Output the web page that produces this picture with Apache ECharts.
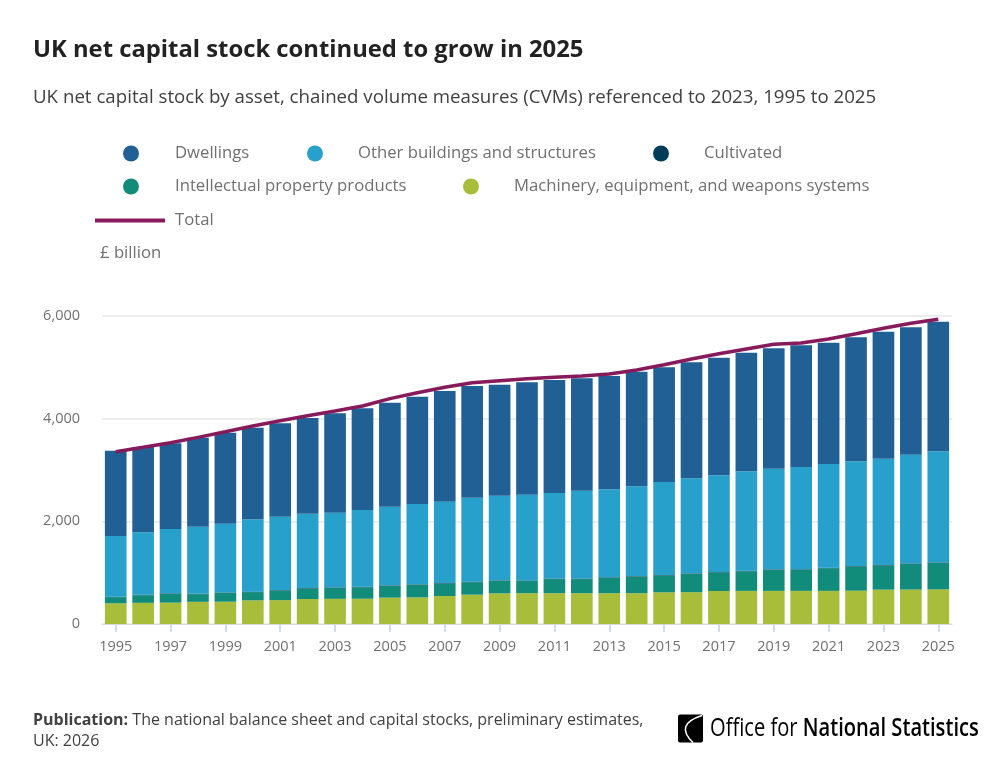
<!DOCTYPE html>
<html>
<head>
<meta charset="utf-8">
<script src="https://cdn.jsdelivr.net/npm/echarts@6/dist/echarts.min.js"></script>
<style>
    html, body { margin: 0; padding: 0; background: #fff; }
    #chart { width: 1008px; height: 778px; }
</style>
</head>
<body>
<div id="chart"></div>
<script>
// 年份
var years = ['1995','1996','1997','1998','1999','2000','2001','2002','2003','2004','2005','2006','2007','2008','2009','2010',
    '2011','2012','2013','2014','2015','2016','2017','2018','2019','2020','2021','2022','2023','2024','2025'];

// £ billion, CVM
var machinery = [403,412,415,432,434,461,465,487,490,492,513,518,545,571,597,600,600,600,600,600,617,620,643,645,645,645,645,649,669,670,675];
var ipp = [120,149,176,149,171,160,188,205,214,225,230,245,244,244,243,238,275,275,302,323,328,357,360,384,410,413,442,471,470,502,516];
var cultivated = [9,9,9,9,9,9,9,9,10,10,10,10,10,10,10,10,10,10,10,10,10,10,10,10,10,10,10,10,10,10,10];
var otherBuildings = [1182,1216,1250,1306,1340,1409,1429,1448,1455,1494,1533,1564,1584,1636,1650,1671,1667,1712,1711,1749,1811,1850,1883,1935,1961,1990,2020,2039,2072,2116,2162];
var dwellings = [1662,1662,1669,1734,1773,1785,1818,1864,1935,1980,2025,2091,2156,2175,2162,2188,2201,2188,2208,2233,2234,2260,2292,2311,2344,2370,2363,2415,2473,2481,2526];
var total = [3357,3442,3532,3636,3745,3857,3960,4058,4149,4247,4390,4506,4611,4701,4740,4779,4805,4831,4870,4948,5050,5162,5266,5357,5448,5474,5552,5655,5760,5857,5935];

var yTicks = [0, 2000, 4000, 6000];

var font = '"Open Sans", "Noto Sans", sans-serif';
var grey = '#707071';

function legendItem(name, left, top, pad, extra){
    var l = {
        data: [name],
        left: left,
        top: top,
        padding: 0,
        icon: 'circle',
        itemWidth: 16,
        itemHeight: 16,
        selectedMode: false,
        textStyle: {
            color: grey,
            fontFamily: font,
            fontSize: 16.7,
            lineHeight: 16,
            padding: [0, 0, 0, pad]
        }
    };
    if(extra){
        for(var k in extra){ l[k] = extra[k]; }
    }
    return l;
}

function barSeries(name, color, data){
    return {
        name: name,
        type: 'bar',
        stack: 'assets',
        barCategoryGap: '21%',
        itemStyle: { color: color },
        emphasis: { disabled: true },
        data: data
    };
}

var myChart = echarts.init(document.getElementById('chart'));
var option = {
    backgroundColor: '#ffffff',
    animation: false,
    title: [
        {
            text: 'UK net capital stock continued to grow in 2025',
            left: 33, top: 38, padding: 0,
            textStyle: { color: '#222222', fontFamily: font, fontSize: 23.8, fontWeight: 'bold' }
        },
        {
            text: 'UK net capital stock by asset, chained volume measures (CVMs) referenced to 2023, 1995 to 2025',
            left: 33, top: 88, padding: 0,
            textStyle: { color: '#414042', fontFamily: font, fontSize: 18.7, fontWeight: 'normal' }
        },
        {
            text: '£ billion',
            left: 100, top: 245, padding: 0,
            textStyle: { color: grey, fontFamily: font, fontSize: 16.7, fontWeight: 'normal' }
        },
        {
            text: '{b|Publication:} The national balance sheet and capital stocks, preliminary estimates,\nUK: 2026',
            left: 33, top: 710, padding: 0,
            textStyle: {
                color: '#414042', fontFamily: font, fontSize: 16, lineHeight: 21, fontWeight: 'normal',
                rich: {
                    b: { fontFamily: font, fontSize: 16, fontWeight: 'bold', color: '#414042', lineHeight: 21 }
                }
            }
        }
    ],
    legend: [
        legendItem('Dwellings', 123, 145, 31),
        legendItem('Other buildings and structures', 307, 145, 30),
        legendItem('Cultivated', 653, 145, 30),
        legendItem('Intellectual property products', 123, 178, 31),
        legendItem('Machinery, equipment, and weapons systems', 463, 178, 30),
        legendItem('Total', 95, 212, 5, { icon: 'rect', itemWidth: 70, itemHeight: 4 })
    ],
    grid: {
        left: 102,
        right: 56,
        top: 316,
        bottom: 154
    },
    xAxis: {
        type: 'category',
        data: years,
        axisLine: { show: true, lineStyle: { color: '#d9d9d9', width: 1 } },
        axisTick: {
            show: true,
            alignWithLabel: true,
            interval: 1,
            length: 8,
            lineStyle: { color: '#d3dbe8', width: 2 }
        },
        axisLabel: {
            interval: 1,
            color: grey,
            fontFamily: font,
            fontSize: 14.5,
            margin: 15
        }
    },
    yAxis: {
        type: 'value',
        min: yTicks[0],
        max: yTicks[yTicks.length - 1],
        interval: 2000,
        axisLine: { show: false },
        axisTick: { show: false },
        splitLine: { lineStyle: { color: '#e6e6e6', width: 1.5 } },
        axisLabel: {
            color: grey,
            fontFamily: font,
            fontSize: 14.5,
            margin: 22,
            formatter: function(v){
                return v.toLocaleString('en-GB');
            }
        }
    },
    series: [
        barSeries('Machinery, equipment, and weapons systems', '#a8bd3a', machinery),
        barSeries('Intellectual property products', '#118c7b', ipp),
        barSeries('Cultivated', '#003c57', cultivated),
        barSeries('Other buildings and structures', '#27a0cc', otherBuildings),
        barSeries('Dwellings', '#206095', dwellings),
        {
            name: 'Total',
            type: 'line',
            data: total,
            symbol: 'none',
            z: 5,
            lineStyle: { color: '#871a5b', width: 3.5 },
            itemStyle: { color: '#871a5b' },
            emphasis: { disabled: true }
        }
    ],
    graphic: [
        {
            type: 'group',
            left: 678,
            top: 713,
            children: [
                {
                    type: 'rect',
                    shape: { x: 0, y: 0, width: 25, height: 28, r: 2 },
                    style: { fill: '#000000' }
                },
                {
                    type: 'bezierCurve',
                    shape: { x1: 24, y1: 1, cpx1: -4, cpy1: 10, x2: 15, y2: 28 },
                    style: { stroke: '#ffffff', lineWidth: 1.5, fill: null }
                },
                {
                    type: 'text',
                    x: 32,
                    y: 14,
                    scaleX: 0.805,
                    style: {
                        text: '{r|Office for }{b|National Statistics}',
                        verticalAlign: 'middle',
                        rich: {
                            r: { fontFamily: font, fontSize: 25, fill: '#000000' },
                            b: { fontFamily: font, fontSize: 25, fontWeight: 600, fill: '#000000' }
                        }
                    }
                }
            ]
        }
    ]
};

myChart.setOption(option);
</script>
</body>
</html>
